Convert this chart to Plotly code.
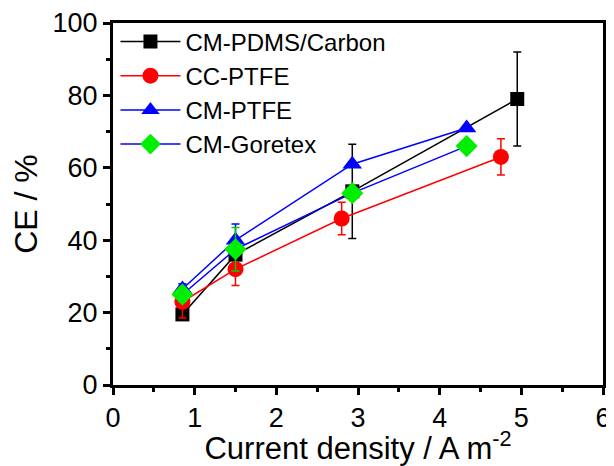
import plotly.graph_objects as go

names = ["CM-PDMS/Carbon", "CC-PTFE", "CM-PTFE", "CM-Goretex"]
x_pdms = [0.85, 1.5, 2.93, 4.95]
y_pdms = [19.5, 36, 53.5, 79]
e_pdms = [1.5, 3, 13, 13]
x_cc = [0.85, 1.5, 2.8, 4.75]
y_cc = [23, 32, 46, 63]
e_cc = [4.5, 4.5, 4.5, 5]
x_cm = [0.85, 1.5, 2.93, 4.33]
y_cm = [26.5, 40, 61, 71]
e_cm = [1.5, 4.5, 0, 0]
x_gore = [0.85, 1.5, 2.93, 4.33]
y_gore = [25, 37.5, 53, 66]
e_gore = [2, 6, 0, 0]

series = [
    (names[0], x_pdms, y_pdms, e_pdms, "black", "black", "black", "square", 14),
    (names[1], x_cc, y_cc, e_cc, "red", "red", "red", "circle", 16),
    (names[2], x_cm, y_cm, e_cm, "blue", "blue", "blue", "triangle-up", 17),
    (names[3], x_gore, y_gore, e_gore, "#0000ff", "#00ee00", "#00cc00", "diamond", 17),
]

FONT = "Liberation Sans, Arial"

fig = go.Figure()
for i, (n, xs, ys, es, lc, mc, ec, sym, sz) in enumerate(series):
    fig.add_trace(go.Scatter(
        x=xs, y=ys, name=n, mode="lines+markers",
        line=dict(color=lc, width=1.5),
        marker=dict(symbol=sym, size=sz, color=mc, line=dict(width=0)),
        error_y=dict(type="data", array=es, visible=True, color=ec,
                     thickness=1.5, width=4),
    ))

axis_common = dict(
    showline=True, linecolor="black", linewidth=3, mirror=True,
    ticks="outside", ticklen=7, tickwidth=2.5, tickcolor="black",
    showgrid=False, zeroline=False, automargin=False,
    tickfont=dict(family=FONT, size=27, color="black"),
)

fig.update_xaxes(range=[0, 6], dtick=1, tick0=0,
                 minor=dict(dtick=0.5, ticks="outside", ticklen=4, tickwidth=2.5, tickcolor="black"),
                 title=dict(text="Current density / A m<sup>-2</sup>", standoff=6,
                            font=dict(family=FONT, size=31, color="black")),
                 **axis_common)
fig.update_yaxes(range=[0, 100], dtick=20, tick0=0,
                 minor=dict(dtick=10, ticks="outside", ticklen=4, tickwidth=2.5, tickcolor="black"),
                 title=dict(text="CE / %", standoff=12,
                            font=dict(family=FONT, size=32, color="black")),
                 **axis_common)

# page body has an 8px default margin, so the figure is sized/offset to compensate
fig.update_layout(
    width=606, height=458,
    margin=dict(l=105, r=11, t=15, b=81),
    plot_bgcolor="white", paper_bgcolor="white",
    legend=dict(x=0.005, y=1.01, xanchor="left", yanchor="top",
                font=dict(family=FONT, size=24, color="black"),
                bgcolor="rgba(0,0,0,0)", tracegroupgap=0, itemwidth=60),
    showlegend=True,
)

fig.write_html("out.html")
